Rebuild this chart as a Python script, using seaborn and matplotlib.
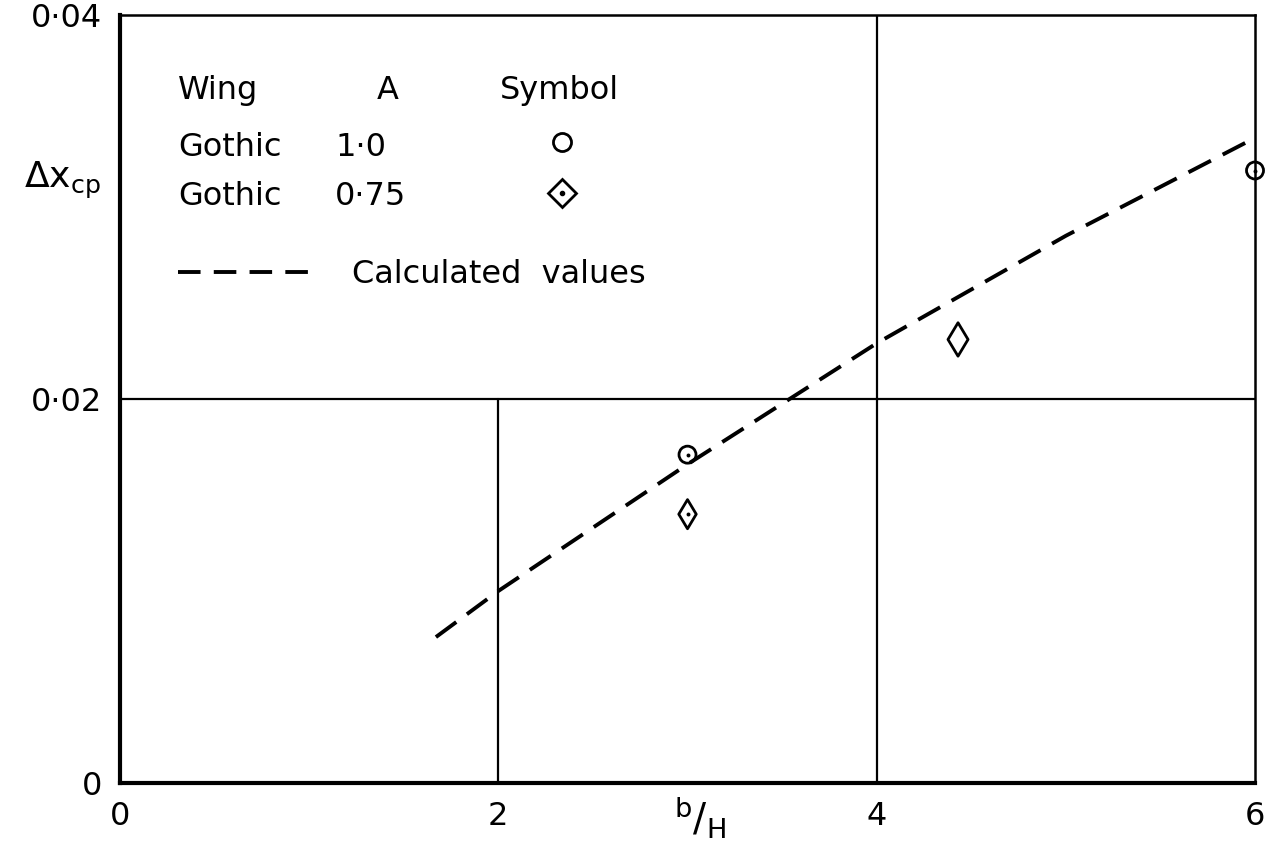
import matplotlib
matplotlib.use("Agg")
import matplotlib.pyplot as plt
from matplotlib.lines import Line2D
import seaborn as sns

# calculated values (dashed curve)
calc_x = [1.67, 2.0, 3.0, 4.0, 5.0, 6.0]
calc_y = [0.0076, 0.0100, 0.0166, 0.0229, 0.0285, 0.0336]

# Gothic wing, A = 1.0 (circles)
circ_x = [3.0, 6.0]
circ_y = [0.0171, 0.0319]

# Gothic wing, A = 0.75 (diamonds)
diam_x = [3.0, 4.43]
diam_y = [0.0140, 0.0231]

x_ticks = [0, 2, 4, 6]
x_ticklabels = ["0", "2", "4", "6"]
y_ticks = [0, 0.02, 0.04]
y_ticklabels = ["0", "0·02", "0·04"]

sns.set_style("white")
plt.rcParams["font.family"] = ["DejaVu Sans"]
plt.rcParams["mathtext.fontset"] = "dejavusans"
plt.rcParams["text.color"] = "black"
plt.rcParams["axes.labelcolor"] = "black"
FS = 23

fig = plt.figure(figsize=(12.7, 8.56), dpi=100)
ax = fig.add_axes([0.0945, 0.0853, 0.8937, 0.8972])

# reference lines
ax.axhline(0.02, color="black", lw=1.6, zorder=1)
ax.axvline(4, color="black", lw=1.6, zorder=1)
ax.axvline(2, ymin=0, ymax=0.5, color="black", lw=1.6, zorder=1)

sns.lineplot(x=calc_x, y=calc_y, ax=ax, color="black", lw=2.8,
             linestyle=(0, (6.5, 3.4)), sort=False, zorder=3)

# circles
sns.scatterplot(x=circ_x, y=circ_y, ax=ax, marker="o", s=150,
                facecolor="none", edgecolor="black", linewidth=2.0,
                zorder=4, clip_on=False)
# diamonds
diam_sizes = [220, 290]
sns.scatterplot(x=diam_x, y=diam_y, ax=ax, marker="d", s=diam_sizes,
                facecolor="none", edgecolor="black", linewidth=2.0,
                zorder=4, clip_on=False)
# centre dots
sns.scatterplot(x=circ_x + diam_x[:1], y=circ_y + diam_y[:1], ax=ax,
                marker="o", s=8, color="black", linewidth=0, zorder=5,
                clip_on=False)

ax.set_xlim(0, 6)
ax.set_ylim(0, 0.04)
ax.set_xticks(x_ticks)
ax.set_xticklabels(x_ticklabels, fontsize=FS)
ax.set_yticks(y_ticks)
ax.set_yticklabels(y_ticklabels, fontsize=FS)
ax.tick_params(axis="both", length=0, pad=13, colors="black")

for side in ["left", "bottom"]:
    ax.spines[side].set_linewidth(3.0)
for side in ["top", "right"]:
    ax.spines[side].set_linewidth(1.8)
for sp in ax.spines.values():
    sp.set_color("black")

ax.set_ylabel(r"$\Delta\mathrm{x}_{\mathrm{cp}}$", fontsize=FS + 3, rotation=0,
              va="center", ha="center")
ax.yaxis.set_label_coords(-0.051, 0.785)
ax.set_xlabel(r"$^{\mathrm{b}}/_{\mathrm{H}}$", fontsize=FS + 5)
ax.xaxis.set_label_coords(0.511, -0.014)

# legend table
ax.text(0.0511, 0.902, "Wing", transform=ax.transAxes, fontsize=FS, va="center")
ax.text(0.2361, 0.902, "A", transform=ax.transAxes, fontsize=FS, va="center", ha="center")
ax.text(0.3348, 0.902, "Symbol", transform=ax.transAxes, fontsize=FS, va="center")
ax.text(0.0511, 0.828, "Gothic", transform=ax.transAxes, fontsize=FS, va="center")
ax.text(0.1894, 0.828, "1·0", transform=ax.transAxes, fontsize=FS, va="center")
ax.text(0.0511, 0.764, "Gothic", transform=ax.transAxes, fontsize=FS, va="center")
ax.text(0.1894, 0.764, "0·75", transform=ax.transAxes, fontsize=FS, va="center")

key_kw = dict(loc="center", frameon=False, handlelength=1, handletextpad=0,
              borderpad=0, borderaxespad=0, fontsize=FS)
h_circ = Line2D([], [], marker="o", ms=13, mfc="none", mec="black", mew=2.0, ls="none")
leg1 = ax.legend(handles=[h_circ], labels=[""], bbox_to_anchor=(0.3894, 0.8307), **key_kw)
ax.add_artist(leg1)
h_diam = Line2D([], [], marker="D", ms=14, mfc="none", mec="black", mew=2.0, ls="none")
h_dot = Line2D([], [], marker="o", ms=3, color="black", ls="none")
leg2 = ax.legend(handles=[(h_diam, h_dot)], labels=[""], bbox_to_anchor=(0.3894, 0.7643), **key_kw)
ax.add_artist(leg2)
h_line = Line2D([], [], color="black", lw=2.8, linestyle=(0, (5.8, 3.4)))
ax.legend(handles=[h_line], labels=["Calculated  values"], loc="center left",
          bbox_to_anchor=(0.0511, 0.6615), frameon=False, handlelength=4.14,
          handletextpad=1.3, borderpad=0, borderaxespad=0, fontsize=FS,
          labelcolor="black")

fig.savefig("out.png", dpi=100)
